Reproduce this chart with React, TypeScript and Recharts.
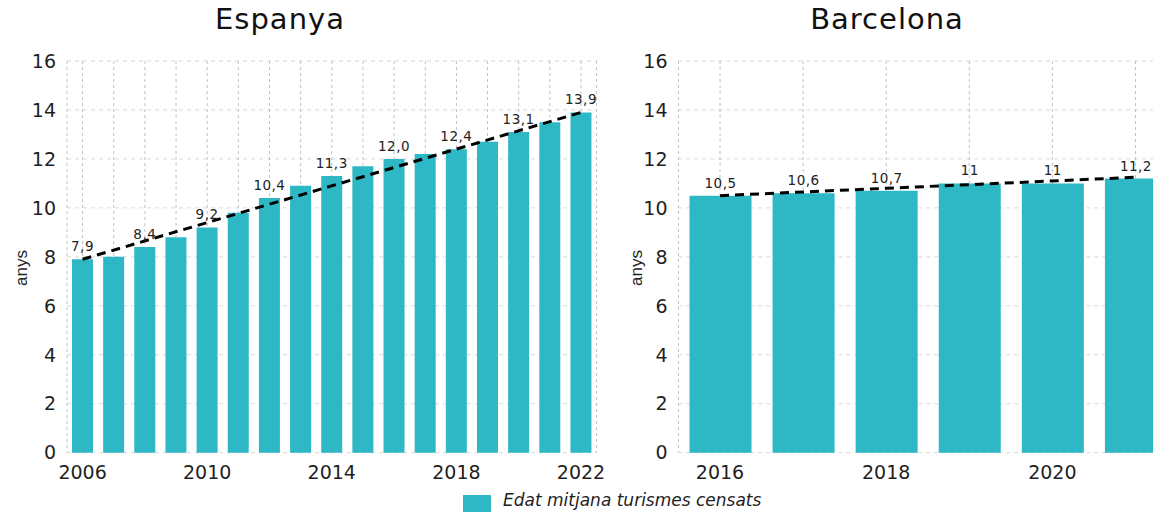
import React from 'react';
import { ComposedChart, Bar, Line, XAxis, YAxis, CartesianGrid, LabelList } from 'recharts';

// Espanya
const espanyaYears = ['2006', '2007', '2008', '2009', '2010', '2011', '2012', '2013', '2014', '2015', '2016', '2017', '2018', '2019', '2020', '2021', '2022'];
const espanyaValues = [7.9, 8.0, 8.4, 8.8, 9.2, 9.8, 10.4, 10.9, 11.3, 11.7, 12.0, 12.2, 12.4, 12.7, 13.1, 13.5, 13.9];
const espanyaLabels = ['7,9', '', '8,4', '', '9,2', '', '10,4', '', '11,3', '', '12,0', '', '12,4', '', '13,1', '', '13,9'];
const espanyaTrend = [7.9, null, null, null, null, null, null, null, null, null, null, null, null, null, null, null, 13.9];
const espanyaTicks = ['2006', '2010', '2014', '2018', '2022'];

// Barcelona
const barcelonaYears = ['2016', '2017', '2018', '2019', '2020', '2021'];
const barcelonaValues = [10.5, 10.6, 10.7, 11, 11, 11.2];
const barcelonaLabels = ['10,5', '10,6', '10,7', '11', '11', '11,2'];
const barcelonaTrend = [10.5, null, null, null, null, 11.25];
const barcelonaTicks = ['2016', '2018', '2020'];

const yTicks = [0, 2, 4, 6, 8, 10, 12, 14, 16];

const TEAL = '#2eb8c6';
const FONT = "'DejaVu Sans', sans-serif";

const buildRows = (years: string[], values: number[], labels: string[], trend: (number | null)[]) =>
  years.map((year, i) => ({ year, value: values[i], label: labels[i], trend: trend[i] }));

const espanyaData = buildRows(espanyaYears, espanyaValues, espanyaLabels, espanyaTrend);
const barcelonaData = buildRows(barcelonaYears, barcelonaValues, barcelonaLabels, barcelonaTrend);

const renderValueLabel = (props: any) => {
  const { x, y, width, value } = props;
  if (!value) return null;
  return (
    <text x={x + width / 2} y={y - 8} textAnchor="middle" fontFamily={FONT} fontSize={13.5} letterSpacing={0.5} fill="#222">
      {value}
    </text>
  );
};

interface PanelProps {
  data: any[];
  ticks: string[];
  width: number;
  margin: { top: number; right: number; bottom: number; left: number };
  barSize: number;
}

function Panel({ data, ticks, width, margin, barSize }: PanelProps) {
  return (
    <ComposedChart width={width} height={512} data={data} margin={margin}>
      <CartesianGrid vertical={false} stroke="#d9d9d9" strokeDasharray="4 4" />
      <CartesianGrid horizontal={false} stroke="#c2c2c2" strokeDasharray="3 3" />
      <XAxis
        dataKey="year"
        height={30}
        interval={0}
        axisLine={false}
        tickLine={false}
        tickSize={0}
        tickMargin={13}
        tickFormatter={(v: string) => (ticks.includes(v) ? v : '')}
        tick={{ fontFamily: FONT, fontSize: 19, fill: '#1f1f1f' }}
      />
      <YAxis
        width={47}
        domain={[0, 16]}
        ticks={yTicks}
        interval={0}
        axisLine={false}
        tickLine={false}
        tickSize={0}
        tickMargin={11}
        tick={{ fontFamily: FONT, fontSize: 19, fill: '#1f1f1f' }}
      />
      <Bar dataKey="value" fill={TEAL} barSize={barSize} isAnimationActive={false}>
        <LabelList dataKey="label" content={renderValueLabel} />
      </Bar>
      <Line
        dataKey="trend"
        type="linear"
        stroke="#000"
        strokeWidth={3}
        strokeDasharray="9 6"
        dot={false}
        activeDot={false}
        connectNulls
        isAnimationActive={false}
      />
    </ComposedChart>
  );
}

const titleStyle: React.CSSProperties = {
  position: 'absolute',
  top: 5,
  transform: 'translateX(-50%)',
  fontFamily: FONT,
  fontSize: 29,
  lineHeight: '29px',
  letterSpacing: 1,
  color: '#111',
  whiteSpace: 'nowrap',
};

const axisTitleStyle: React.CSSProperties = {
  position: 'absolute',
  transform: 'translate(-50%, -50%) rotate(-90deg)',
  fontFamily: "'Liberation Sans', Arial, sans-serif",
  fontSize: 17,
  lineHeight: '17px',
  color: '#222',
  whiteSpace: 'nowrap',
};

export default function App() {
  return (
    <div style={{ position: 'absolute', left: 0, top: 0, width: 1153, height: 512, overflow: 'hidden', background: '#fff' }}>
      <div style={{ position: 'absolute', left: 0, top: 0 }}>
        <Panel
          data={espanyaData}
          ticks={espanyaTicks}
          width={610}
          margin={{ top: 61, right: 13.4, bottom: 29.3, left: 20 }}
          barSize={21}
        />
      </div>
      <div style={{ position: 'absolute', left: 610, top: 0 }}>
        <Panel
          data={barcelonaData}
          ticks={barcelonaTicks}
          width={590}
          margin={{ top: 61, right: 23, bottom: 29.3, left: 21.5 }}
          barSize={62}
        />
      </div>

      <div style={{ ...titleStyle, left: 280 }}>Espanya</div>
      <div style={{ ...titleStyle, left: 887 }}>Barcelona</div>

      <div style={{ ...axisTitleStyle, left: 21, top: 268 }}>anys</div>
      <div style={{ ...axisTitleStyle, left: 636, top: 268 }}>anys</div>

      <div style={{ position: 'absolute', left: 463, top: 495, width: 28, height: 28, background: TEAL }} />
      <div
        style={{
          position: 'absolute',
          left: 503,
          top: 490,
          fontFamily: FONT,
          fontStyle: 'italic',
          fontSize: 17,
          lineHeight: '20px',
          color: '#222',
          whiteSpace: 'nowrap',
        }}
      >
        Edat mitjana turismes censats
      </div>
    </div>
  );
}
